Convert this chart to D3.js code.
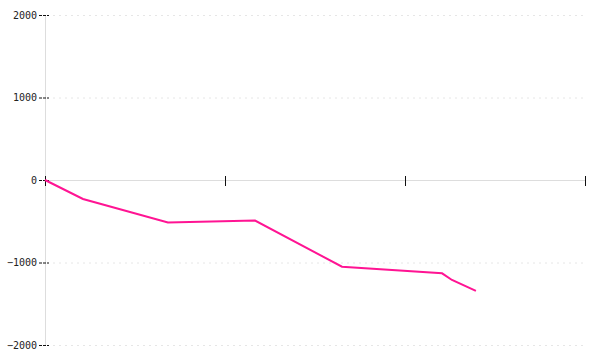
<!DOCTYPE html>
<html><head><meta charset="utf-8">
<script src="https://cdn.jsdelivr.net/npm/d3@7"></script>
<style>body{margin:0;background:#fff}svg{display:block}</style>
</head><body>
<svg id="c" width="600" height="360"></svg>
<script>
const xValues = [0, 0.211, 0.683, 1.167, 1.65, 2.206, 2.261, 2.394];
const yValues = [0, -230, -515, -492, -1051, -1131, -1212, -1345];
const xTicks = [0, 1, 2, 3];
const yTicks = [-2000, -1000, 0, 1000, 2000];

const svg = d3.select("#c");
const x = d3.scaleLinear().domain([0, 3]).range([45, 585]);
const y = d3.scaleLinear().domain([-2000, 2000]).range([345, 15]);

// gridlines
svg.append("g").selectAll("line").data(yTicks.filter(d => d !== 0)).join("line")
  .attr("x1", 53).attr("x2", 585)
  .attr("y1", d => y(d) + 0.5).attr("y2", d => y(d) + 0.5)
  .attr("stroke", "#e6e6e6").attr("stroke-dasharray", "2,4");

// y axis line
svg.append("line").attr("x1", 45.5).attr("x2", 45.5).attr("y1", 15).attr("y2", 345)
  .attr("stroke", "#ddd");
// x axis line
svg.append("line").attr("x1", 45).attr("x2", 585).attr("y1", y(0) + 0.5).attr("y2", y(0) + 0.5)
  .attr("stroke", "#ddd");

// y ticks
const yt = svg.append("g");
yt.selectAll("line").data(yTicks).join("line")
  .attr("x1", 39).attr("x2", 49)
  .attr("y1", d => y(d) + 0.5).attr("y2", d => y(d) + 0.5)
  .attr("stroke", "#111").attr("stroke-dasharray", "3,1");
yt.selectAll("text").data(yTicks).join("text")
  .attr("x", 37).attr("y", d => y(d)).attr("dy", "0.35em")
  .attr("text-anchor", "end")
  .attr("font-family", "DejaVu Sans Mono, monospace").attr("font-size", 10)
  .attr("fill", "#222")
  .text(d => d3.format("d")(d).replace("-", "\u2212"));

// x ticks
svg.append("g").selectAll("line").data(xTicks).join("line")
  .attr("x1", d => Math.round(x(d)) + 0.5).attr("x2", d => Math.round(x(d)) + 0.5)
  .attr("y1", 176).attr("y2", 186)
  .attr("stroke", "#111");

// line
const pts = xValues.map((v, i) => [v, yValues[i]]);
svg.append("path").datum(pts)
  .attr("fill", "none").attr("stroke", "#ff1493").attr("stroke-width", 2)
  .attr("d", d3.line().x(d => x(d[0])).y(d => y(d[1])));
</script>
</body></html>
